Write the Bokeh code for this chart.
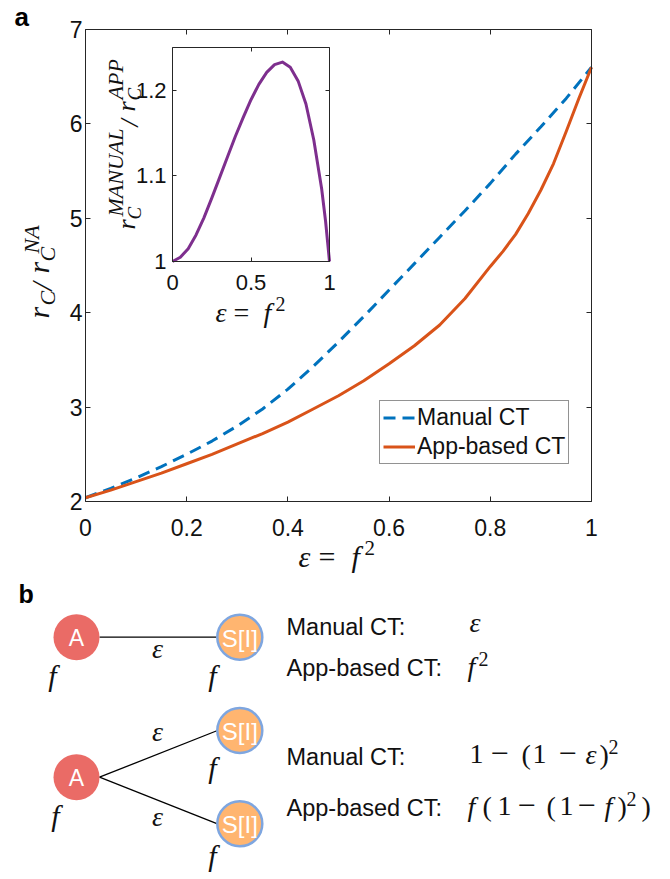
from bokeh.plotting import figure
from bokeh.models import (Range1d, LinearAxis, FixedTicker, CustomJSTickFormatter,
                          Label, Legend, LegendItem)
from bokeh.embed import file_html
from bokeh.resources import INLINE

# ---------------- data ----------------
eps_manual = [0.00, 0.05, 0.10, 0.15, 0.20, 0.25, 0.30, 0.35, 0.40, 0.45, 0.50,
              0.55, 0.60, 0.65, 0.70, 0.75, 0.80, 0.85, 0.90, 0.95, 1.00]
rc_manual = [2.04, 2.14, 2.25, 2.37, 2.50, 2.64, 2.80, 2.98, 3.19, 3.43, 3.69,
             3.96, 4.24, 4.52, 4.80, 5.08, 5.37, 5.68, 5.97, 6.27, 6.60]
eps_app = [0.00, 0.05, 0.10, 0.15, 0.20, 0.25, 0.30, 0.35, 0.40, 0.45, 0.50,
           0.55, 0.60, 0.65, 0.70, 0.75, 0.80, 0.825, 0.85, 0.875, 0.90, 0.925,
           0.95, 0.975, 1.00]
rc_app = [2.04, 2.12, 2.21, 2.30, 2.40, 2.50, 2.61, 2.72, 2.84, 2.98, 3.12,
          3.28, 3.46, 3.65, 3.87, 4.15, 4.49, 4.65, 4.83, 5.05, 5.30, 5.58,
          5.92, 6.27, 6.60]
eps_ratio = [0.00, 0.05, 0.10, 0.15, 0.20, 0.25, 0.30, 0.35, 0.40, 0.45, 0.50,
             0.55, 0.60, 0.65, 0.70, 0.75, 0.80, 0.85, 0.90, 0.95, 0.975, 1.00]
ratio_manual_app = [1.000, 1.005, 1.015, 1.031, 1.051, 1.074, 1.098, 1.122, 1.146, 1.168, 1.189,
                    1.207, 1.221, 1.230, 1.233, 1.227, 1.211, 1.184, 1.142, 1.085, 1.047, 1.000]
x_ticks = [0, 0.2, 0.4, 0.6, 0.8, 1]
y_ticks = [2, 3, 4, 5, 6, 7]
inset_x_ticks = [0, 0.5, 1]
inset_y_ticks = [1, 1.1, 1.2]
main_x_lim = (0, 1)
main_y_lim = (2, 7)
inset_x_lim = (0, 1)
inset_y_lim = (1, 1.25)
series_names = ["Manual CT", "App-based CT"]
row_labels = ["Manual CT:", "App-based CT:", "Manual CT:", "App-based CT:"]

# ---------------- layout constants (page pixels) ----------------
W, H = 670, 879
MAIN_L, MAIN_R, MAIN_T, MAIN_B = 85, 591, 29, 501
IN_L, IN_R, IN_T, IN_B = 172, 329, 47, 261
AXC = "#262626"
TXT = "#111111"
SANS = "Liberation Sans"
SERIF = "Liberation Serif"
BLUE, ORANGE, PURPLE = "#0072BD", "#D95319", "#7E2F8E"
BASE_SHIFT = 0.33   # correction of where the alphabetic baseline lands

kx = (main_x_lim[1] - main_x_lim[0]) / (MAIN_R - MAIN_L)
ky = (main_y_lim[1] - main_y_lim[0]) / (MAIN_B - MAIN_T)
p = figure(width=W, height=H,
           x_range=Range1d(main_x_lim[0] - MAIN_L * kx, main_x_lim[1] + (W - MAIN_R) * kx),
           y_range=Range1d(main_y_lim[0] - (H - MAIN_B) * ky, main_y_lim[1] + MAIN_T * ky),
           x_axis_type=None, y_axis_type=None, toolbar_location=None, output_backend="svg",
           min_border=0)
p.outline_line_color = None
p.background_fill_color = "white"
p.border_fill_color = "white"

ipx = (inset_x_lim[1] - inset_x_lim[0]) / (IN_R - IN_L)
ipy = (inset_y_lim[1] - inset_y_lim[0]) / (IN_B - IN_T)
p.extra_x_ranges = {"ix": Range1d(inset_x_lim[0] - IN_L * ipx, inset_x_lim[1] + (W - IN_R) * ipx),
                    "px": Range1d(0, W)}
p.extra_y_ranges = {"iy": Range1d(inset_y_lim[0] - (H - IN_B) * ipy, inset_y_lim[1] + IN_T * ipy),
                    "py": Range1d(H, 0)}

fmt = CustomJSTickFormatter(code="return String(tick)")


def style(ax, size="23px", show=True, tick=5, standoff=5):
    ax.axis_line_color = AXC
    ax.axis_line_width = 1
    ax.major_tick_line_color = AXC
    ax.major_tick_line_width = 1
    ax.major_tick_in = tick
    ax.major_tick_out = 0
    ax.minor_tick_line_color = None
    ax.major_label_text_font = SANS
    ax.major_label_text_color = TXT
    ax.major_label_standoff = standoff
    ax.formatter = fmt
    if show:
        ax.major_label_text_font_size = size
    else:
        ax.major_label_text_font_size = "0px"
        ax.major_label_text_alpha = 0
    return ax


# main axes (box with inward ticks)
p.add_layout(style(LinearAxis(ticker=FixedTicker(ticks=x_ticks), fixed_location=main_y_lim[0],
                              bounds=main_x_lim), standoff=17), "below")
p.add_layout(style(LinearAxis(ticker=FixedTicker(ticks=y_ticks), fixed_location=main_x_lim[0],
                              bounds=main_y_lim), standoff=3), "left")
p.add_layout(style(LinearAxis(ticker=FixedTicker(ticks=x_ticks), fixed_location=main_y_lim[1],
                              bounds=main_x_lim), show=False), "above")
p.add_layout(style(LinearAxis(ticker=FixedTicker(ticks=y_ticks), fixed_location=main_x_lim[1],
                              bounds=main_y_lim), show=False), "right")

r1 = p.line(eps_manual, rc_manual, line_color=BLUE, line_width=3, line_dash="12 7")
r2 = p.line(eps_app, rc_app, line_color=ORANGE, line_width=3, line_join="round")
p.line(eps_ratio, ratio_manual_app, line_color=PURPLE, line_width=3, line_join="round",
       x_range_name="ix", y_range_name="iy")

# inset axes (box)
ik = dict(x_range_name="ix", y_range_name="iy")
p.add_layout(style(LinearAxis(ticker=FixedTicker(ticks=inset_y_ticks), fixed_location=inset_x_lim[0],
                              bounds=inset_y_lim, **ik), size="22px", tick=4, standoff=6), "left")
p.add_layout(style(LinearAxis(ticker=FixedTicker(ticks=inset_x_ticks), fixed_location=inset_y_lim[0],
                              bounds=inset_x_lim, **ik), size="22px", tick=4, standoff=13), "below")
p.add_layout(style(LinearAxis(ticker=FixedTicker(ticks=inset_x_ticks), fixed_location=inset_y_lim[1],
                              bounds=inset_x_lim, **ik), show=False, tick=4), "above")
p.add_layout(style(LinearAxis(ticker=FixedTicker(ticks=inset_y_ticks), fixed_location=inset_x_lim[1],
                              bounds=inset_y_lim, **ik), show=False, tick=4), "right")

legend = Legend(items=[LegendItem(label=series_names[0], renderers=[r1]),
                       LegendItem(label=series_names[1], renderers=[r2])],
                location=(379, H - 464),
                label_text_font=SANS, label_text_font_size="23px", label_text_color=TXT,
                glyph_width=32, glyph_height=27, label_standoff=2, padding=3, spacing=2,
                margin=0, border_line_color=AXC, border_line_width=1,
                background_fill_color="white", background_fill_alpha=1)
p.add_layout(legend)

PG = dict(x_range_name="px", y_range_name="py")


def lab(x, y, text, size, font=SANS, style_="normal", color=TXT, align="left",
        baseline="alphabetic", angle=0):
    if baseline == "alphabetic":
        if angle == 0:
            y -= BASE_SHIFT * size
        else:
            x -= BASE_SHIFT * size
    p.add_layout(Label(x=x, y=y, text=text, text_font=font, text_font_style=style_,
                       text_font_size=f"{size}px", text_color=color, text_align=align,
                       text_baseline=baseline, angle=angle, angle_units="deg", **PG))


def hmath(base_y, pieces):
    for txt, size, italic, rise, x in pieces:
        lab(x, base_y - rise, txt, size, font=SERIF, style_="italic" if italic else "normal")


def vmath(base_x, pieces):
    for txt, size, italic, rise, s in pieces:
        lab(base_x - rise, s, txt, size, font=SERIF, style_="italic" if italic else "normal",
            angle=90)


# ---- panel a labels ----
hmath(566, [("ε", 30, True, 0, 298), ("=", 30, False, 0, 318),
            ("f", 30, True, 0, 351), ("2", 21, False, 12, 364)])
hmath(321, [("ε", 28, True, 0, 215), ("=", 28, False, 0, 233),
            ("f", 28, True, 0, 263), ("2", 20, False, 11, 275)])
vmath(48, [("r", 30, True, 0, 318), ("C", 22, True, -6, 305),
           ("/", 30, True, -3, 290), ("r", 30, True, 0, 273),
           ("C", 22, True, -6, 261), ("NA", 22, True, 10, 253)])
vmath(135, [("r", 26, True, 0, 229), ("C", 19, True, -5, 219),
            ("MANUAL", 22, True, 13, 216), ("/", 26, True, -3, 126),
            ("r", 26, True, 0, 111), ("C", 19, True, -5, 100),
            ("APP", 22, True, 13, 99)])
lab(14, 25, "a", 26, style_="bold", color="black")

# ---- panel b (diagram, page coordinates) ----
a_nodes_x, a_nodes_y = [76, 76], [636.7, 776.7]
s_nodes_x, s_nodes_y = [239.3, 239.3, 239.3], [636.7, 730, 823.3]
edge_x0, edge_y0 = [99, 99, 99], [636.7, 776.7, 776.7]
edge_x1, edge_y1 = [216, 217, 217], [636.7, 730, 823.3]

p.segment(edge_x0, edge_y0, edge_x1, edge_y1, line_color="black", line_width=1.3, **PG)
p.circle(a_nodes_x, a_nodes_y, radius=23, fill_color="#EA6B66", line_color=None, **PG)
p.circle(s_nodes_x, s_nodes_y, radius=22.5, fill_color="#FFB570", line_color="#7EA6E0",
         line_width=2.5, **PG)

for x, y in zip(a_nodes_x, a_nodes_y):
    lab(x, y + 1, "A", 23, color="white", align="center", baseline="middle")
for x, y in zip(s_nodes_x, s_nodes_y):
    lab(x, y + 1, "S[I]", 24, color="white", align="center", baseline="middle")

for x, y in [(157, 657), (157, 740), (157, 825)]:
    lab(x, y, "ε", 28, font=SERIF, style_="italic", align="center")
for x, y in [(52, 685), (212, 685), (212, 777), (55, 825), (212, 865)]:
    lab(x, y, "f", 30, font=SERIF, style_="italic", align="center")

for txt, y in zip(row_labels, [634, 675, 764, 815]):
    lab(286, y, txt, 23.5)

hmath(631, [("ε", 28, True, 0, 469)])
hmath(675, [("f", 28, True, 0, 467), ("2", 20, False, 10, 478)])
hmath(763, [("1", 28, False, 0, 469), ("−", 32, False, -1, 490), ("(", 28, False, 0, 521),
            ("1", 28, False, 0, 532), ("−", 32, False, -1, 558), ("ε", 28, True, 0, 585),
            (")", 28, False, 0, 599), ("2", 20, False, 10, 608)])
hmath(815, [("f", 28, True, 0, 467), ("(", 28, False, 0, 482), ("1", 28, False, 0, 497),
            ("−", 32, False, -1, 517), ("(", 28, False, 0, 546), ("1", 28, False, 0, 559),
            ("−", 32, False, -1, 577), ("f", 28, True, 0, 604), (")", 28, False, 0, 617),
            ("2", 20, False, 10, 626), (")", 28, False, 0, 641)])

lab(18, 602, "b", 25, style_="bold", color="black")

open("out.html", "w").write(file_html(p, INLINE, title="chart"))
